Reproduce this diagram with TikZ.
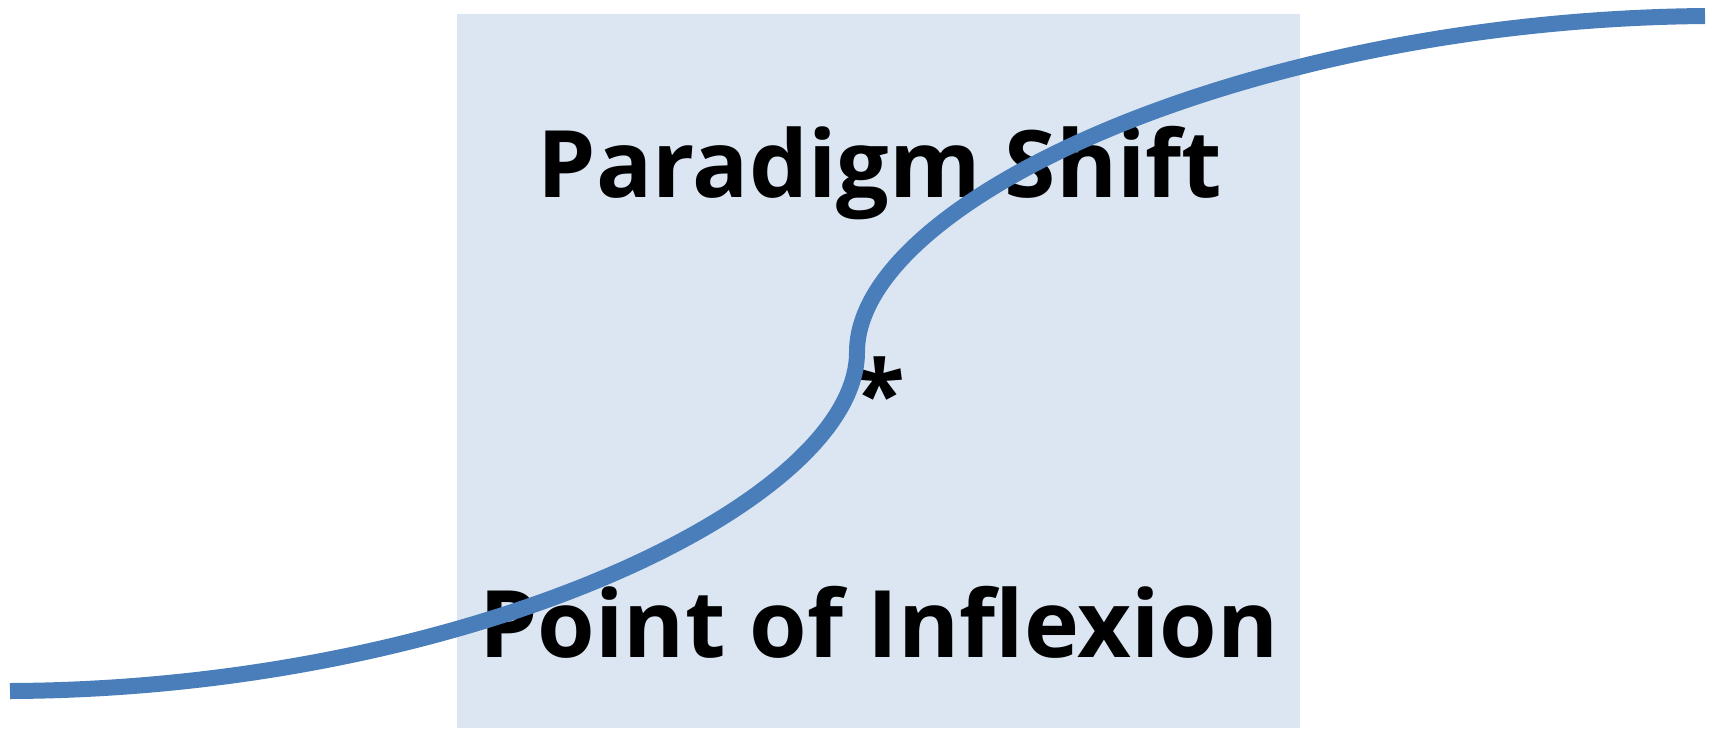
\documentclass[tikz,border=0pt]{standalone}
\usepackage{fontspec}
\setmainfont{Open Sans}
\definecolor{curveblue}{HTML}{4A7EBB}
\definecolor{boxblue}{HTML}{DCE6F2}
\tikzset{bigtext/.style={anchor=base,inner sep=0pt,font=\fontsize{53}{60}\selectfont\bfseries}}

\begin{document}
\begin{tikzpicture}[x=0.2mm,y=-0.2mm]
\useasboundingbox (0,0) rectangle (1713,728);
\fill[boxblue] (457,14) rectangle (1300,728);
\node[bigtext] (shift) at (880,197) {Paradigm Shift};
\node[bigtext] (inflex) at (879,657) {Point of Inflexion};
\node[bigtext,anchor=center] (star) at (880,392) {*};
\draw[curveblue,line width=3.2mm] (10,691) .. controls (464,689) and (857,504) .. (857,352)
  .. controls (857,200) and (1250,20) .. (1705,16);
\end{tikzpicture}
\end{document}
